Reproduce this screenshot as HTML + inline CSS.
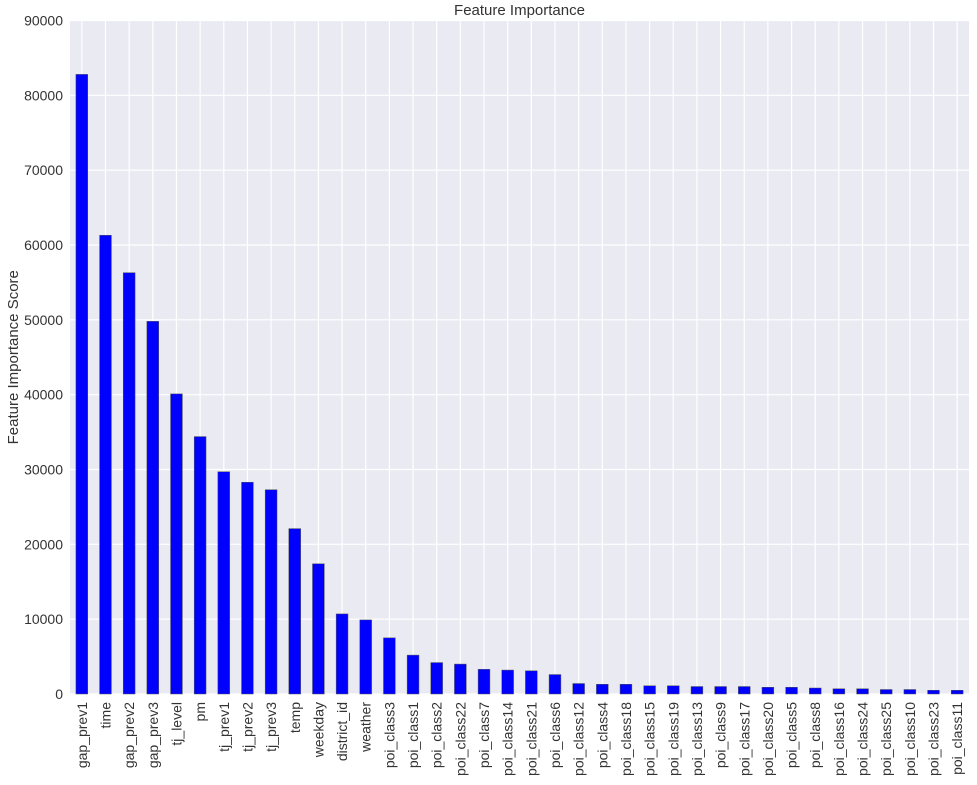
<!DOCTYPE html>
<html><head><meta charset="utf-8"><style>
body{margin:0;background:#fff;font-family:"Liberation Sans",sans-serif}
</style></head><body>
<svg id="chart" width="977" height="780" xmlns="http://www.w3.org/2000/svg" font-family="Liberation Sans, sans-serif"></svg>
<script>
const categories=["gap_prev1","time","gap_prev2","gap_prev3","tj_level","pm","tj_prev1","tj_prev2","tj_prev3","temp","weekday","district_id","weather","poi_class3","poi_class1","poi_class2","poi_class22","poi_class7","poi_class14","poi_class21","poi_class6","poi_class12","poi_class4","poi_class18","poi_class15","poi_class19","poi_class13","poi_class9","poi_class17","poi_class20","poi_class5","poi_class8","poi_class16","poi_class24","poi_class25","poi_class10","poi_class23","poi_class11"];
const values=[82800,61300,56300,49800,40100,34400,29700,28300,27300,22100,17400,10700,9900,7500,5200,4200,4000,3300,3200,3100,2600,1400,1300,1300,1100,1100,1000,1000,1000,900,900,800,700,700,600,600,500,500];
const yTicks=[0,10000,20000,30000,40000,50000,60000,70000,80000,90000];
</script>
<script>
const svg=document.getElementById('chart');
const NS='http://www.w3.org/2000/svg';
const L=70,R=969,T=20.5,B=694,yMax=90000;
const n=categories.length,step=(R-L)/n;
const y=v=>B-(v/yMax)*(B-T);
const x=i=>L+step*(i+0.5);
function mk(t,a,p){const e=document.createElementNS(NS,t);for(const k in a)e.setAttribute(k,a[k]);(p||svg).appendChild(e);return e;}
const bg=mk('rect',{x:L,y:T,width:R-L,height:B-T,fill:'#EAEAF2'});


yTicks.forEach(v=>{
  const g=mk('line',{x1:L,x2:R,y1:y(v),y2:y(v),stroke:'#fff','stroke-width':1.2});
  
  
  const t=mk('text',{x:L-7,y:y(v)+5,'text-anchor':'end','font-size':14,fill:'#333'});
  t.textContent=v;
  
  
});
categories.forEach((c,i)=>{
  const g=mk('line',{x1:x(i),x2:x(i),y1:T,y2:B,stroke:'#fff','stroke-width':1.2});
  
  
});
categories.forEach((c,i)=>{
  const w=step*0.5;
  const b=mk('rect',{x:x(i)-w/2,y:y(values[i]),width:w,height:B-y(values[i]),fill:'#0000ff',stroke:'#555','stroke-width':0.5});
  
  
  const t=mk('text',{transform:`translate(${x(i)+5},${B+8}) rotate(-90)`,'text-anchor':'end','font-size':14,fill:'#333'});
  t.textContent=c;
  
  
});
const title=mk('text',{x:(L+R)/2,y:15,'text-anchor':'middle','font-size':15,fill:'#333'});
title.textContent='Feature Importance';


const yl=mk('text',{transform:`translate(18,${(T+B)/2}) rotate(-90)`,'text-anchor':'middle','font-size':15,fill:'#333'});
yl.textContent='Feature Importance Score';


</script>
</body></html>
